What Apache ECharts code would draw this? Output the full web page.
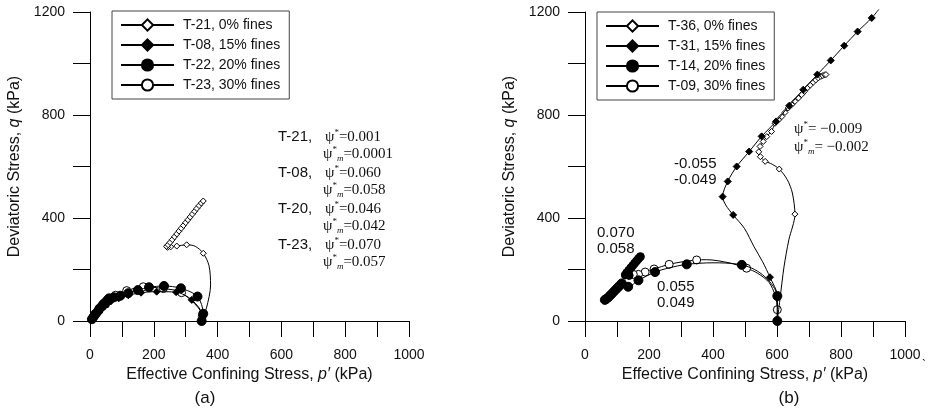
<!DOCTYPE html>
<html><head><meta charset="utf-8">
<script src="https://cdn.jsdelivr.net/npm/echarts@6/dist/echarts.min.js"></script>
<style>html,body{margin:0;padding:0;background:#fff}#c{width:928px;height:408px}</style>
</head><body><div id="c"></div>
<script>
// ---------- data (p', q in kPa); third value 0 = fitted curve point, no measured marker ----------
const xTickLabels = [0, 200, 400, 600, 800, 1000];
const yTickLabels = [0, 400, 800, 1200];

// (a) left panel
const t21 = [[350,0,0],[365,50,0],[378,140,0],[373,215,0],[355,263],[330,290,0],[303,296],[272,291],[253,288],[243,286],[240,290],
  [245,296],[251,305],[258,316],[265,327],[272,338],[279,349],[286,360],[293,371],[300,382],[307,393],[314,404],[321,415],[328,426],[335,437],[342,448],[349,458],[355,466]];
const t08 = [[350,0,0],[352,22],[319,82],[270,112],[209,114],[160,110],[120,100],[90,88],[65,76]];
const t08Dense = [[50,64],[40,55],[30,42],[22,30],[15,20],[9,10]];
const t22 = [[350,0],[355,28],[337,95],[285,127],[232,136],[185,131],[150,120],[120,108],[95,98],[75,92]];
const t22Dense = [[60,88],[55,82],[48,72],[40,62],[33,52],[26,40],[18,28],[11,16],[6,7]];
const t23 = [[350,0,0],[352,18],[287,110],[230,126],[167,133],[115,118],[80,100],[60,88],[42,68],[28,48],[16,28],[7,10,0]];

// (b) right panel
const t36 = [[601,0,0],[609,82,0],[622,211,0],[637,315,0],[656,415],[648,497,0],[632,549,0],[607,590],[580,612,0],[563,620],[548,638],[543,657],[547,678],[557,697],[568,716],[583,736],
  [594,768],[605,781],[615,794],[625,810],[635,827],[646,840],[656,853],[667,866],[677,879],[686,892],[695,905],[704,916],[713,927],[721,936],[729,944],[737,950],[743,953],[749,956],[753,957]];
const t31 = [[601,0,0],[601,97],[578,170],[555,230,0],[528,289,0],[498,360,0],[463,412],[440,450,0],[430,483],[446,542],[474,600],[513,658],[552,717],[597,775],[638,836],[682,898],[726,957],[768,1012],[810,1069],[852,1124],[896,1177],[918,1210,0]];
const t14 = [[601,0],[601,97],[588,135,0],[562,172,0],[530,200,0],[490,218],[440,225,0],[400,226,0],[318,220],[262,206,0],[219,190],[167,158],[135,133]];
const t14Dense = [[115,146],[108,137],[101,128],[94,119],[87,110],[80,101],[73,92],[66,85],[62,82]];
const t09 = [[601,0,0],[601,44],[594,100,0],[575,150,0],[540,185,0],[505,205],[450,226,0],[380,238,0],[349,237],[300,229,0],[263,220],[216,202],[188,190],[167,181],[151,181]];
const t09Dense = [[138,177],[126,179],[131,188],[137,197],[143,206],[149,215],[155,224],[161,233],[167,242],[173,250]];

const namesA = ['T-21, 0% fines','T-08, 15% fines','T-22, 20% fines','T-23, 30% fines'];
const namesB = ['T-36, 0% fines','T-31, 15% fines','T-14, 20% fines','T-09, 30% fines'];

const notesA = [['T-21,','0.001','0.0001'],['T-08,','0.060','0.058'],['T-20,','0.046','0.042'],['T-23,','0.070','0.057']];
const notesBPsi = ['\u22120.009','\u22120.002'];
const notesB = [['-0.055','-0.049'],['0.070','0.058'],['0.055','0.049']];

// ---------- chart ----------
const SANS = 'Liberation Sans, Arial, sans-serif';
const SERIF = 'Liberation Serif, Times New Roman, serif';
const INK = '#111';

function series(name, pts, dense, sym, size, filled, gi, z) {
  const data = pts.map(d => d[2] === 0 ? {value:[d[0],d[1]], symbol:'none'} : {value:[d[0],d[1]]});
  (dense || []).forEach(d => data.push({value:[d[0],d[1]], symbol:'circle', itemStyle:{color:'#000'}}));
  return {
    type:'line', name, xAxisIndex:gi, yAxisIndex:gi, data, smooth:0.3, z:z,
    symbol:sym, symbolSize:size, showAllSymbol:true, clip:false, animation:false,
    lineStyle:{color:'#000', width:1},
    itemStyle:{color: filled ? '#000' : '#fff', borderColor:'#000', borderWidth:1},
    emphasis:{disabled:true}
  };
}

function xAxis(gi) {
  return {
    gridIndex:gi, type:'value', min:0, max:1000, interval:100,
    axisLine:{show:true, onZero:false, lineStyle:{color:'#000', width:1}},
    axisTick:{show:true, length:16, lineStyle:{color:'#000', width:1}},
    splitLine:{show:false},
    axisLabel:{margin:27, fontSize:14, fontFamily:SANS, color:INK,
      formatter: v => xTickLabels.includes(v) ? String(v) : ''},
    name:'Effective Confining Stress, {i|p\u2032} (kPa)', nameLocation:'middle', nameGap:43,
    nameTextStyle:{fontSize:16, fontFamily:SANS, color:INK, rich:{i:{fontStyle:'italic', fontSize:16, fontFamily:SANS, color:INK}}}
  };
}
function yAxis(gi) {
  return {
    gridIndex:gi, type:'value', min:0, max:1200, interval:200,
    axisLine:{show:true, lineStyle:{color:'#000', width:1}},
    axisTick:{show:true, length:17, lineStyle:{color:'#000', width:1}},
    splitLine:{show:false},
    axisLabel:{margin:25, fontSize:14, fontFamily:SANS, color:INK,
      formatter: v => yTickLabels.includes(v) ? String(v) : ''},
    name:'Deviatoric Stress, {i|q} (kPa)', nameLocation:'middle', nameGap:67, nameRotate:90,
    nameTextStyle:{fontSize:16, fontFamily:SANS, color:INK, rich:{i:{fontStyle:'italic', fontSize:16, fontFamily:SANS, color:INK}}}
  };
}
function legend(left, top, names) {
  return {
    left, top, orient:'vertical', data:names, itemWidth:53, itemHeight:14, itemGap:6,
    padding:[7,9,7,8], borderColor:'#444', borderWidth:1, selectedMode:false,
    textStyle:{fontFamily:SANS, fontSize:14, color:INK, padding:[0,0,0,4]}
  };
}

const psiRich = {
  sup:{fontSize:9, fontFamily:SERIF, color:INK, lineHeight:9, verticalAlign:'top'},
  sub:{fontSize:9, fontFamily:SERIF, fontStyle:'italic', color:INK, lineHeight:9, verticalAlign:'bottom'}
};
function txt(x, y, text, family, rich, size) {
  return {type:'text', x, y, silent:true, style:{text, fill:INK, fontSize:size||14, fontFamily:family,
    lineHeight:18, verticalAlign:'middle', align:'left', rich:rich||undefined}};
}

const graphics = [];
notesA.forEach((n, i) => {
  const y0 = 137 + 36 * i;
  graphics.push(txt(278, y0, n[0], SANS, null, 15));
  graphics.push(txt(325, y0, '\u03c8{sup|*}=' + n[1], SERIF, psiRich, 15));
  graphics.push(txt(323, y0 + 17, '\u03c8{sup|*}{sub|m}=' + n[2], SERIF, psiRich, 15));
});
graphics.push(txt(794, 129, '\u03c8{sup|*}= ' + notesBPsi[0], SERIF, psiRich, 15));
graphics.push(txt(794, 147, '\u03c8{sup|*}{sub|m}= ' + notesBPsi[1], SERIF, psiRich, 15));
const notePosB = [[674,164],[597,233],[657,287]];
notesB.forEach((n, i) => {
  graphics.push(txt(notePosB[i][0], notePosB[i][1], n[0], SANS, null, 15));
  graphics.push(txt(notePosB[i][0], notePosB[i][1] + 16, n[1], SANS, null, 15));
});
graphics.push({type:'text', x:205, y:398, silent:true, style:{text:'(a)', fill:INK, fontSize:17, fontFamily:SANS, align:'center', verticalAlign:'middle'}});
graphics.push({type:'text', x:789, y:398, silent:true, style:{text:'(b)', fill:INK, fontSize:17, fontFamily:SANS, align:'center', verticalAlign:'middle'}});
graphics.push({type:'text', x:924, y:366, silent:true, style:{text:'`', fill:INK, fontSize:12, fontFamily:SANS, align:'center', verticalAlign:'middle'}});

const chart = echarts.init(document.getElementById('c'), null, {renderer:'canvas'});
chart.setOption({
  animation:false,
  backgroundColor:'#fff',
  grid:[{left:90, top:12, width:319, height:309}, {left:585, top:12, width:320, height:309}],
  xAxis:[xAxis(0), xAxis(1)],
  yAxis:[yAxis(0), yAxis(1)],
  legend:[legend(112, 11, namesA), legend(597, 12, namesB)],
  series:[
    series(namesA[3], t23, null, 'circle', 8, false, 0, 2),
    series(namesA[0], t21, null, 'diamond', 6, false, 0, 3),
    series(namesA[1], t08, t08Dense, 'diamond', 7, true, 0, 4),
    series(namesA[2], t22, t22Dense, 'circle', 9, true, 0, 5),
    series(namesB[0], t36, null, 'diamond', 6, false, 1, 3),
    series(namesB[1], t31, null, 'diamond', 7, true, 1, 4),
    series(namesB[3], t09, t09Dense, 'circle', 8, false, 1, 2),
    series(namesB[2], t14, t14Dense, 'circle', 9, true, 1, 5)
  ],
  graphic:graphics
});
</script>
</body></html>
